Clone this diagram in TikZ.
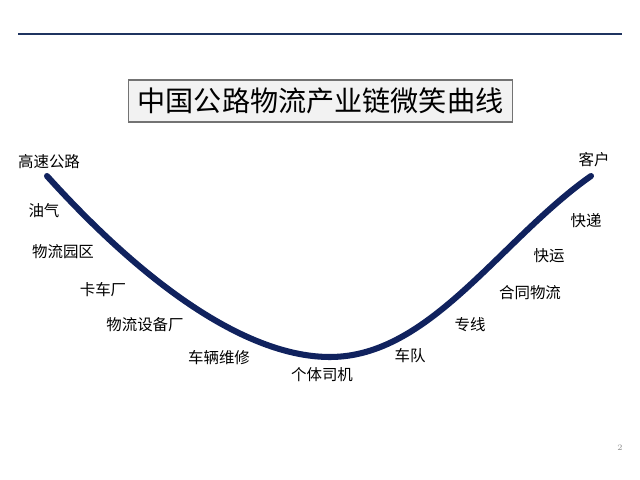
\documentclass[tikz,border=0pt]{standalone}
\usepackage{fontspec}
\usepackage{xcolor}
\usepackage{tikz}
\usetikzlibrary{positioning}
\newfontfamily\cjk{Noto Sans CJK SC}
\definecolor{navy}{RGB}{16,34,94}
\definecolor{rulenavy}{RGB}{31,52,96}
\definecolor{titlegray}{RGB}{242,242,242}

\begin{document}
\begin{tikzpicture}[
  x=0.025cm, y=-0.025cm,
  titlebox/.style={draw=black!55, fill=titlegray, line width=0.8pt, minimum width=9.6cm, minimum height=1.05cm, inner sep=0pt, font=\cjk\fontsize{20}{24}\selectfont},
  label/.style={inner sep=1pt, font=\cjk\fontsize{11}{13}\selectfont},
  smile/.style={draw=navy, line width=4.3pt, line cap=round}
]
\useasboundingbox (0,0) rectangle (640,480);

% header rule and page number
\coordinate (rl) at (18,34);
\coordinate (rr) at (622,34);
\draw[rulenavy, line width=1.6pt] (rl) -- (rr);
\node[text=black!45, font=\fontsize{6}{7}\selectfont] (pg) at (620,448) {2};

\node[titlebox] (title) at (320.5,101) {中国公路物流产业链微笑曲线};

% the curve
\coordinate (lt) at (47,176);
\coordinate (bot) at (330,357);
\coordinate (rt) at (591,176);
\draw[smile] (lt) .. controls (150,290) and (250,357) .. (bot)
  .. controls (430,357) and (500,240) .. (rt);

% left side labels
\node[label] (gs) at (49,162) {高速公路};
\node[label] (yq) at (44,211) {油气};
\node[label] (yq2) at (63,252) {物流园区};
\node[label] (kc) at (103,290) {卡车厂};
\node[label] (sb) at (145,325) {物流设备厂};
\node[label] (wx) at (219,358) {车辆维修};
\node[label] (sj) at (322,375) {个体司机};

% right side labels
\node[label] (cd) at (410,356) {车队};
\node[label] (zx) at (470,325) {专线};
\node[label] (ht) at (530,293) {合同物流};
\node[label] (ky) at (549,256) {快运};
\node[label] (kd) at (586,221) {快递};
\node[label] (kh) at (594,160) {客户};
\end{tikzpicture}
\end{document}
